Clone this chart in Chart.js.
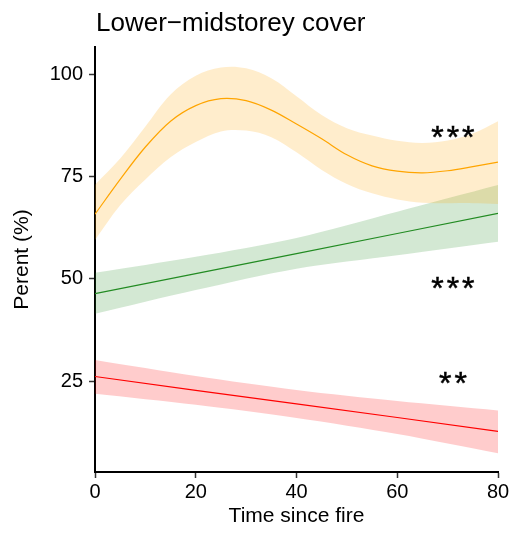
<!DOCTYPE html>
<html>
<head>
<meta charset="utf-8">
<script src="https://cdn.jsdelivr.net/npm/chart.js@4.4.1/dist/chart.umd.min.js"></script>
<style>
  html, body { margin: 0; padding: 0; background: #fff; }
  #wrap { width: 518px; height: 539px; }
</style>
</head>
<body>
<div id="wrap"><canvas id="cover" width="518" height="539"></canvas></div>
<script>
// smooth (curved) fit, sampled every 5 years
const xCurve = [0, 5, 10, 15, 20, 25, 30, 35, 40, 45, 50, 55, 60, 65, 70, 75, 80];
const orangeFit = [65.8, 74.3, 82.2, 88.5, 92.3, 94.0, 93.5, 91.2, 87.8, 84.2, 80.3, 77.6, 76.3, 75.9, 76.4, 77.4, 78.5];
const orangeLo  = [59.5, 68.0, 74.3, 79.7, 83.4, 86.0, 86.2, 84.6, 80.9, 76.6, 73.2, 70.9, 69.4, 68.6, 68.5, 68.5, 68.3];
const orangeHi  = [73.0, 79.4, 87.2, 95.0, 99.6, 101.6, 101.4, 99.0, 94.6, 90.0, 86.8, 85.0, 83.7, 83.2, 83.8, 85.5, 88.5];

// straight fits
const xLine = [0, 20, 40, 60, 80];
const greenFit = [46.4, 51.3, 56.2, 61.1, 66.0];
const greenLo  = [41.5, 47.3, 52.5, 55.8, 59.1];
const greenHi  = [51.5, 55.4, 60.0, 66.4, 72.9];
const redFit = [26.2, 22.8, 19.5, 16.2, 12.8];
const redLo  = [22.0, 19.3, 16.1, 12.2, 7.5];
const redHi  = [30.2, 26.3, 22.9, 20.2, 17.9];

const xTicks = [0, 20, 40, 60, 80];
const yTicks = [25, 50, 75, 100];

// significance stars
const starText = ["***", "***", "**"];
const starX = [71, 71, 71];
const starY = [85.8, 49.0, 25.8];

const FONT = "'Liberation Sans', Arial, Helvetica, sans-serif";

function pts(xs, ys) {
  return xs.map((x, i) => ({ x, y: ys[i] }));
}

function band(xs, lo, hi, fillColor, tension) {
  return [
    { data: pts(xs, lo), borderWidth: 0, pointRadius: 0, fill: false, tension },
    { data: pts(xs, hi), borderWidth: 0, pointRadius: 0, fill: "-1", backgroundColor: fillColor, tension }
  ];
}

function fitLine(xs, ys, color, tension) {
  return {
    data: pts(xs, ys),
    borderColor: color,
    borderWidth: 1.2,
    pointRadius: 0,
    fill: false,
    tension
  };
}

const titlePlugin = {
  id: "panelTitle",
  afterDraw(chart) {
    const ctx = chart.ctx;
    ctx.save();
    ctx.fillStyle = "#000";
    ctx.font = "26px " + FONT;
    ctx.textAlign = "left";
    ctx.textBaseline = "alphabetic";
    ctx.fillText("Lower\u2212midstorey cover", chart.chartArea.left + 1, 31);
    ctx.restore();
  }
};

// stars are centred (by glyph box) on their data position
const starPlugin = {
  id: "stars",
  afterDatasetsDraw(chart) {
    const ctx = chart.ctx;
    const xs = chart.scales.x, ys = chart.scales.y;
    ctx.save();
    ctx.fillStyle = "#000";
    ctx.strokeStyle = "#000";
    ctx.lineWidth = 0.5;
    ctx.font = "32px " + FONT;
    ctx.letterSpacing = "3px";
    ctx.textAlign = "left";
    ctx.textBaseline = "alphabetic";
    starText.forEach((t, i) => {
      const m = ctx.measureText(t);
      const w = m.actualBoundingBoxLeft + m.actualBoundingBoxRight;
      const h = m.actualBoundingBoxAscent - m.actualBoundingBoxDescent;
      const px = xs.getPixelForValue(starX[i]) - w / 2 + m.actualBoundingBoxLeft;
      const py = ys.getPixelForValue(starY[i]) + h / 2;
      ctx.fillText(t, px, py);
      ctx.strokeText(t, px, py);
    });
    ctx.restore();
  }
};

new Chart(document.getElementById("cover"), {
  type: "line",
  data: {
    datasets: [
      ...band(xCurve, orangeLo, orangeHi, "rgba(255,165,0,0.2)", 0.35),
      fitLine(xCurve, orangeFit, "#FFA500", 0.35),
      ...band(xLine, greenLo, greenHi, "rgba(34,139,34,0.2)", 0.3),
      fitLine(xLine, greenFit, "#228B22", 0),
      ...band(xLine, redLo, redHi, "rgba(255,0,0,0.2)", 0.3),
      fitLine(xLine, redFit, "#FF0000", 0)
    ]
  },
  options: {
    responsive: false,
    devicePixelRatio: 1,
    animation: false,
    layout: { padding: { top: 47, right: 20, bottom: 0, left: 0 } },
    plugins: {
      legend: { display: false },
      tooltip: { enabled: false }
    },
    scales: {
      x: {
        type: "linear",
        min: 0,
        max: 80,
        afterBuildTicks: s => { s.ticks = xTicks.map(v => ({ value: v })); },
        afterFit: s => { s.height = 67; },
        ticks: { color: "#000", font: { family: FONT, size: 20 }, padding: 2, maxRotation: 0 },
        grid: { drawOnChartArea: false, drawTicks: true, tickLength: 6, tickColor: "#333", tickWidth: 1.5 },
        border: { display: true, color: "#000", width: 2 },
        title: { display: true, text: "Time since fire", color: "#000", font: { family: FONT, size: 21 }, padding: { top: 0, bottom: 10 } }
      },
      y: {
        type: "linear",
        min: 2.9,
        max: 106.6,
        afterBuildTicks: s => { s.ticks = yTicks.map(v => ({ value: v })); },
        afterFit: s => { s.width = 95; },
        ticks: { color: "#000", font: { family: FONT, size: 20 }, padding: 6 },
        grid: { drawOnChartArea: false, drawTicks: true, tickLength: 6, tickColor: "#333", tickWidth: 1.5 },
        border: { display: true, color: "#000", width: 2 },
        title: { display: true, text: "Perent (%)", color: "#000", font: { family: FONT, size: 21 }, padding: { top: 10, bottom: 0 } }
      }
    }
  },
  plugins: [titlePlugin, starPlugin]
});
</script>
</body>
</html>
